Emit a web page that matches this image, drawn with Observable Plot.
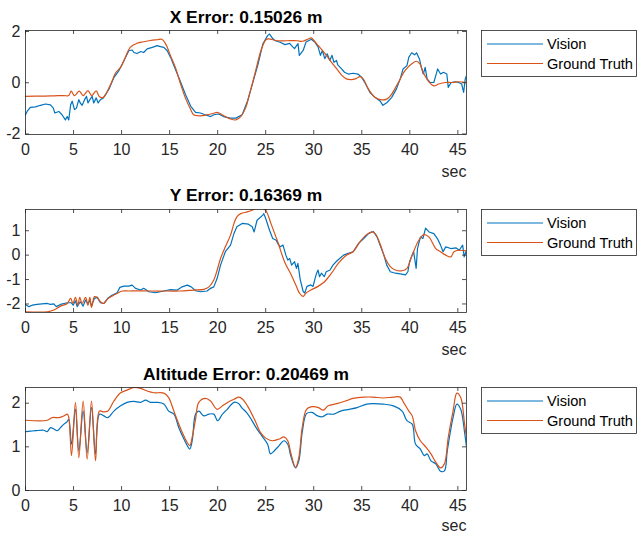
<!DOCTYPE html>
<html><head><meta charset="utf-8">
<script src="https://cdn.jsdelivr.net/npm/d3@7"></script>
<script src="https://cdn.jsdelivr.net/npm/@observablehq/plot@0.6"></script>
<style>
body{margin:0;background:#fff;}
#wrap{position:relative;width:639px;height:533px;background:#fff;overflow:hidden;font-family:"Liberation Sans",Arial,Helvetica,sans-serif;}
.panel{position:absolute;left:0;}
.legend{position:absolute;left:481px;}
</style>
</head><body>
<div id="wrap"></div>
<script>
// ---------- data ----------
const seriesNames = ["Vision", "Ground Truth"];
const seriesColors = ["#0072BD", "#D95319"];
const titles = ["X Error: 0.15026 m", "Y Error: 0.16369 m", "Altitude Error: 0.20469 m"];
const xAxisLabel = "sec";
const xTicks = [0, 5, 10, 15, 20, 25, 30, 35, 40, 45];
const yTicksX = [-2, 0, 2];
const yTicksY = [-2, -1, 0, 1];
const yTicksAlt = [0, 1, 2];

// X panel
const xVisT = [0,0.17,0.5,1.04,1.56,2.08,2.6,2.9,3.05,3.47,3.8,4.15,4.34,4.5,4.7,4.86,5.1,5.3,5.55,5.7,5.9,6.15,6.35,6.5,6.7,6.94,7.1,7.36,7.56,7.8,8.1,8.67,9.2,9.7,10.24,10.75,11.1,11.28,11.6,12.0,12.3,12.66,13.2,13.7,14.05,14.4,14.75,15.1,15.6,16.1,16.65,17.2,17.7,18.2,18.7,19.26,19.6,20.1,20.6,21.3,21.9,22.55,23.1,23.6,24.2,24.7,25.2,25.4,25.7,26.0,26.5,27.0,27.5,27.67,28.0,28.36,28.5,28.9,29.2,29.75,30.1,30.45,30.7,30.9,31.15,31.4,31.67,31.9,32.1,32.37,32.5,32.9,33.2,33.6,34.1,34.6,35.0,35.4,35.85,36.4,36.9,37.2,37.6,38.1,38.6,39.0,39.3,39.7,39.9,40.2,40.5,40.7,41.0,41.2,41.4,41.6,41.8,42.1,42.5,42.7,42.9,43.2,43.5,43.85,44.0,44.3,44.7,45.07,45.4,45.6,45.77,45.9];
const xVisV = [-1.25,-1.12,-0.96,-0.94,-0.88,-0.83,-0.86,-0.99,-1.18,-1.12,-1.25,-1.45,-1.32,-1.45,-0.86,-0.72,-1.05,-0.99,-0.66,-0.79,-0.88,-0.66,-0.53,-0.79,-0.66,-0.53,-0.79,-0.59,-0.79,-0.66,-0.59,-0.26,0.2,0.46,0.86,1.25,1.28,1.18,1.14,1.22,1.18,1.32,1.38,1.45,1.41,1.38,1.25,0.99,0.53,0.07,-0.46,-0.92,-1.16,-1.18,-1.25,-1.32,-1.25,-1.22,-1.32,-1.38,-1.38,-1.25,-0.72,-0.07,0.72,1.51,1.84,1.9,1.74,1.64,1.58,1.49,1.54,1.46,1.33,1.53,1.07,1.26,1.59,1.7,1.59,1.4,1.07,1.26,0.94,1.13,0.87,1.07,0.8,0.87,0.7,0.54,0.41,0.34,0.37,0.34,0.21,-0.05,-0.38,-0.58,-0.71,-0.88,-0.78,-0.58,-0.25,0.15,0.54,0.67,1.0,1.17,1.09,1.17,0.93,0.6,0.34,0.6,0.15,0.01,0.01,0.28,0.54,0.34,0.41,0.34,-0.18,0.01,0.04,0.01,-0.05,-0.38,0.15,0.28];
const xGtT = [0,1,2,3,4,4.5,4.75,5.1,5.6,6.0,6.5,6.9,7.35,7.7,8.1,8.85,9.4,9.9,10.4,10.9,11.6,12.3,13.0,13.7,14.2,14.6,15.1,15.6,16.1,16.65,17.2,17.5,18.2,18.9,19.5,20.0,20.6,21.3,21.9,22.4,22.9,23.4,23.95,24.5,25.0,25.3,26.2,27.2,28.3,28.8,29.5,29.75,30.0,30.45,31.2,31.85,32.4,32.9,33.4,33.9,34.4,34.8,35.15,35.7,36.4,37.1,37.6,38.1,38.8,39.5,40.2,40.7,41.05,41.4,41.9,42.5,43.0,43.7,44.4,45.07,45.9];
const xGtV = [-0.53,-0.52,-0.52,-0.51,-0.5,-0.5,-0.33,-0.5,-0.33,-0.5,-0.31,-0.5,-0.32,-0.55,-0.57,-0.07,0.4,0.6,1.0,1.38,1.54,1.6,1.65,1.68,1.7,1.51,1.05,0.6,0.0,-0.6,-1.05,-1.25,-1.29,-1.25,-1.2,-1.16,-1.28,-1.41,-1.45,-1.32,-0.99,-0.33,0.46,1.25,1.67,1.71,1.64,1.64,1.64,1.62,1.72,1.75,1.66,1.46,1.13,0.8,0.54,0.3,0.15,0.12,0.16,0.24,0.15,-0.25,-0.58,-0.67,-0.64,-0.45,0.01,0.47,0.74,0.84,0.74,0.41,0.08,-0.12,-0.05,0.01,0.01,0.04,0.01];

// Y panel
const yVisT = [0,0.35,0.7,1.2,1.73,2.26,2.6,2.95,3.2,3.64,4.34,4.75,4.96,5.2,5.38,5.7,6.0,6.25,6.5,6.7,6.87,7.18,7.46,7.8,8.15,8.57,9.0,9.54,9.82,10.24,10.76,11.1,11.45,12.0,12.3,12.84,13.53,14.4,15.1,15.8,16.3,16.83,17.25,17.7,18.2,18.9,19.26,19.6,19.95,20.3,20.8,21.34,21.7,22.0,22.55,23.2,23.6,23.8,24.1,24.7,24.8,25.0,25.4,25.73,26.1,26.26,26.5,26.8,27.1,27.3,27.5,27.7,28.0,28.2,28.35,28.6,28.9,29.06,29.3,29.7,29.93,30.1,30.3,30.45,30.6,30.8,31.1,31.3,31.7,32.0,32.4,32.7,33.1,33.6,34.1,34.65,35.2,35.7,36.05,36.2,36.6,36.9,37.3,37.6,37.97,38.5,39.0,39.55,39.8,39.97,40.17,40.4,40.66,40.8,41.1,41.36,41.64,42.0,42.5,42.87,43.2,43.46,43.74,44.27,44.8,45.14,45.5,45.66,45.9];
const yVisV = [-2.02,-2.11,-2.05,-2.02,-2.0,-1.98,-2.02,-2.0,-2.11,-2.02,-1.95,-1.95,-2.05,-1.87,-2.11,-1.91,-2.09,-1.84,-2.0,-1.84,-2.09,-1.77,-1.73,-1.95,-1.98,-1.77,-1.64,-1.54,-1.32,-1.27,-1.27,-1.23,-1.36,-1.43,-1.36,-1.5,-1.54,-1.47,-1.41,-1.43,-1.3,-1.23,-1.3,-1.46,-1.5,-1.47,-1.36,-1.3,-0.95,-0.41,0.14,0.41,0.89,1.16,1.3,1.27,1.16,0.95,1.43,1.64,1.7,1.5,1.02,0.68,0.61,0.47,0.34,0.41,0.0,-0.2,-0.14,-0.41,-0.27,-0.54,-0.34,-1.01,-1.49,-1.55,-1.28,-1.22,-1.28,-1.01,-0.74,-0.61,-0.88,-0.74,-0.88,-0.68,-0.61,-0.41,-0.24,-0.14,0.0,0.07,0.14,0.47,0.68,0.88,0.95,0.97,0.74,0.41,0.0,-0.41,-0.68,-0.74,-0.77,-0.81,-0.68,-0.27,-0.07,0.14,-0.54,0.27,0.74,0.68,1.11,0.95,0.88,0.68,0.41,0.14,0.34,0.27,0.3,0.2,0.41,-0.07,0.2];
const yGtT = [0,2.26,2.95,3.64,4.34,4.7,4.93,5.2,5.45,5.65,5.9,6.25,6.5,6.7,6.87,7.18,7.46,7.8,8.15,8.5,9.0,9.54,10.06,10.76,11.6,13.0,14.75,16.1,17.5,18.56,19.1,19.6,19.95,20.3,20.8,21.34,21.7,22.0,22.4,23.1,23.6,23.9,24.8,25.1,25.56,26.26,26.96,27.66,28.2,28.5,28.9,29.2,29.75,30.45,31.15,31.85,32.55,33.4,34.1,34.8,35.5,36.05,36.4,36.9,37.45,37.97,38.5,39.2,39.7,40.24,40.94,41.47,42.0,42.7,43.2,43.74,44.27,44.6,45.14,45.9];
const yGtV = [-2.32,-2.32,-2.25,-2.09,-1.98,-1.77,-1.98,-1.73,-2.05,-1.73,-1.98,-1.73,-2.05,-1.73,-2.14,-1.7,-1.73,-1.91,-1.98,-1.81,-1.68,-1.57,-1.47,-1.47,-1.46,-1.47,-1.47,-1.47,-1.43,-1.4,-1.3,-1.02,-0.61,-0.14,0.34,0.82,1.3,1.57,1.7,1.77,1.84,1.9,1.9,1.77,1.28,0.54,-0.27,-0.81,-1.28,-1.55,-1.69,-1.55,-1.42,-1.28,-1.08,-0.74,-0.34,0.0,0.14,0.54,0.84,0.95,0.88,0.47,-0.14,-0.47,-0.61,-0.64,-0.54,0.0,0.61,0.84,0.74,0.27,0.14,0.0,-0.07,0.14,0.2,0.17];

// Altitude panel
const aVisT = [0,0.52,1.04,1.9,2.26,2.6,2.95,3.3,3.64,4.0,4.34,4.5,4.79,5.2,5.55,6.0,6.42,6.87,7.29,7.7,8.15,8.57,9.2,9.9,10.58,11.28,11.97,12.5,13.0,13.7,14.4,14.9,15.44,15.96,16.4,16.83,17.1,17.35,17.7,18.04,18.56,19.1,19.6,20.0,20.5,21.0,21.7,22.2,22.5,23.0,23.5,24.0,24.6,25.2,25.5,25.9,26.4,26.9,27.3,27.6,28.1,28.45,28.8,29.25,29.8,30.4,30.9,31.4,32.1,32.8,33.7,34.5,35.5,36.2,37.2,38.3,39.2,39.7,40.25,40.6,41.1,41.5,41.8,42.2,42.7,43.2,43.6,43.9,44.5,44.9,45.3,45.7,45.9];
const aVisV = [1.35,1.36,1.37,1.38,1.35,1.44,1.41,1.37,1.44,1.52,1.58,1.63,1.06,1.86,0.91,1.82,0.87,1.9,0.84,1.75,1.71,1.67,1.82,1.94,2.02,2.04,2.02,2.07,2.02,2.02,1.98,1.82,1.75,1.44,1.22,1.03,0.95,1.14,1.75,1.82,1.71,1.75,1.75,1.6,1.75,1.86,2.02,1.99,1.9,1.79,1.63,1.44,1.25,1.06,0.84,0.91,1.03,1.14,1.06,0.8,0.52,0.68,1.33,1.76,1.79,1.71,1.69,1.75,1.75,1.82,1.86,1.9,1.98,1.99,1.98,1.94,1.82,1.6,1.52,1.06,0.95,0.8,0.84,0.68,0.61,0.44,0.45,0.91,1.67,1.98,1.86,1.33,0.99];
const aGtT = [0,2.26,2.78,3.47,4.0,4.34,4.5,4.79,5.2,5.55,6.0,6.42,6.87,7.29,7.7,8.15,8.57,9.2,9.9,10.58,11.28,11.97,12.66,13.36,14.4,14.9,15.44,15.96,16.4,16.83,17.1,17.35,17.7,18.04,18.74,19.26,19.95,20.5,21.2,21.7,22.2,22.6,23.1,23.9,24.45,25.0,25.7,26.4,26.9,27.3,27.6,28.1,28.45,28.8,29.25,29.8,30.5,31.0,31.5,32.4,33.3,34.1,35.2,36.2,37.2,38.3,39.0,39.35,39.9,40.25,40.6,41.1,41.7,42.2,42.7,43.2,43.6,44.0,44.5,44.9,45.3,45.7,45.9];
const aGtV = [1.61,1.61,1.67,1.67,1.71,1.75,1.68,0.8,2.02,0.75,2.05,0.72,2.05,0.68,1.82,1.8,1.82,2.05,2.24,2.3,2.36,2.34,2.28,2.24,2.23,2.13,1.82,1.52,1.29,1.1,1.03,1.22,1.63,2.02,2.11,2.05,1.86,1.94,2.04,2.09,2.14,2.09,1.94,1.6,1.33,1.2,1.14,1.18,1.23,1.14,0.87,0.53,0.76,1.44,1.86,1.92,1.9,1.84,1.94,1.99,2.05,2.11,2.14,2.14,2.12,2.14,2.14,2.02,1.82,1.71,1.37,1.14,0.99,0.84,0.65,0.52,0.61,1.22,1.82,2.23,2.13,1.52,1.22];

// ---------- drawing ----------
const FONT = '"Liberation Sans", Arial, Helvetica, sans-serif';
const AX = "#262626";
const xDomain = [0, 45.9];
const W = 480, ML = 25, MR = 14, TICK = 4;
const TICKFONT = 16, TITLEFONT = 17.4, LEGENDFONT = 14.6;

function rows(ts, vs, s) { return ts.map((t, i) => ({t, v: vs[i], s})); }

const panels = [
  {top: 0, height: 180, mt: 30, mb: 46, yDomain: [-2.02, 2.04], yTicks: yTicksX, title: titles[0], tdy: -13, sdy: 37, visCurve: "linear",
   vis: rows(xVisT, xVisV, seriesNames[0]), gt: rows(xGtT, xGtV, seriesNames[1])},
  {top: 180, height: 180, mt: 29, mb: 48, yDomain: [-2.35, 1.87], yTicks: yTicksY, title: titles[1], tdy: -14, sdy: 37, visCurve: "linear",
   vis: rows(yVisT, yVisV, seriesNames[0]), gt: rows(yGtT, yGtV, seriesNames[1])},
  {top: 357, height: 176, mt: 30, mb: 43, yDomain: [0, 2.36], yTicks: yTicksAlt, title: titles[2], tdy: -13, sdy: 35, visCurve: "catmull-rom",
   vis: rows(aVisT, aVisV, seriesNames[0]), gt: rows(aGtT, aGtV, seriesNames[1])}
];

const wrap = document.getElementById("wrap");
const fmt = d => String(d);

for (const p of panels) {
  const fh = p.height - p.mt - p.mb;   // frame height
  const fw = W - ML - MR;              // frame width
  const chart = Plot.plot({
    width: W, height: p.height,
    marginLeft: ML, marginRight: MR, marginTop: p.mt, marginBottom: p.mb,
    style: {fontFamily: FONT, fontSize: TICKFONT + "px", color: AX, background: "transparent", overflow: "visible"},
    x: {domain: xDomain, axis: null},
    y: {domain: p.yDomain, axis: null},
    marks: [
      Plot.line(p.vis, {x: "t", y: "v", stroke: seriesColors[0], strokeWidth: 1.2, clip: true, curve: p.visCurve}),
      Plot.line(p.gt, {x: "t", y: "v", stroke: seriesColors[1], strokeWidth: 1.2, clip: true, curve: "catmull-rom"}),
      Plot.frame({stroke: AX, strokeWidth: 0.8}),
      // inward ticks on all four sides
      Plot.tickX(xTicks, {x: d => d, insetTop: fh - TICK, stroke: AX, strokeWidth: 0.8}),
      Plot.tickX(xTicks, {x: d => d, insetBottom: fh - TICK, stroke: AX, strokeWidth: 0.8}),
      Plot.tickY(p.yTicks, {y: d => d, insetRight: fw - TICK, stroke: AX, strokeWidth: 0.8}),
      Plot.tickY(p.yTicks, {y: d => d, insetLeft: fw - TICK, stroke: AX, strokeWidth: 0.8}),
      // tick labels
      Plot.text(xTicks, {x: d => d, text: fmt, frameAnchor: "bottom", lineAnchor: "top", dy: 9.5, fontSize: TICKFONT, fill: AX}),
      Plot.text(p.yTicks, {y: d => d, text: fmt, frameAnchor: "left", textAnchor: "end", lineAnchor: "middle", dx: -5, fontSize: TICKFONT, fill: AX}),
      Plot.text([p.title], {text: d => d, frameAnchor: "top", dy: p.tdy, lineAnchor: "middle", fontWeight: "bold", fontSize: TITLEFONT, fill: "#000"}),
      Plot.text([xAxisLabel], {text: d => d, frameAnchor: "bottom-right", textAnchor: "end", lineAnchor: "middle", dy: p.sdy, fontSize: TICKFONT, fill: AX})
    ]
  });
  const div = document.createElement("div");
  div.className = "panel";
  div.style.top = p.top + "px";
  div.appendChild(chart);
  wrap.appendChild(div);

  // legend
  const lg = document.createElement("div");
  lg.className = "legend";
  lg.style.top = (p.top + p.mt) + "px";
  const svg = d3.create("svg").attr("width", 156).attr("height", 47).style("display", "block");
  svg.append("rect").attr("x", 0.5).attr("y", 0.5).attr("width", 155).attr("height", 46)
    .attr("fill", "#fff").attr("stroke", AX).attr("stroke-width", 0.8);
  seriesNames.forEach((name, i) => {
    const y = 14 + i * 19.5;
    svg.append("line").attr("x1", 6).attr("x2", 62).attr("y1", y).attr("y2", y)
      .attr("stroke", seriesColors[i]).attr("stroke-width", 1.2);
    svg.append("text").attr("x", 66).attr("y", y + 5).attr("font-family", FONT)
      .attr("font-size", LEGENDFONT).attr("fill", "#000").text(name);
  });
  lg.appendChild(svg.node());
  wrap.appendChild(lg);
}
</script>
</body></html>
